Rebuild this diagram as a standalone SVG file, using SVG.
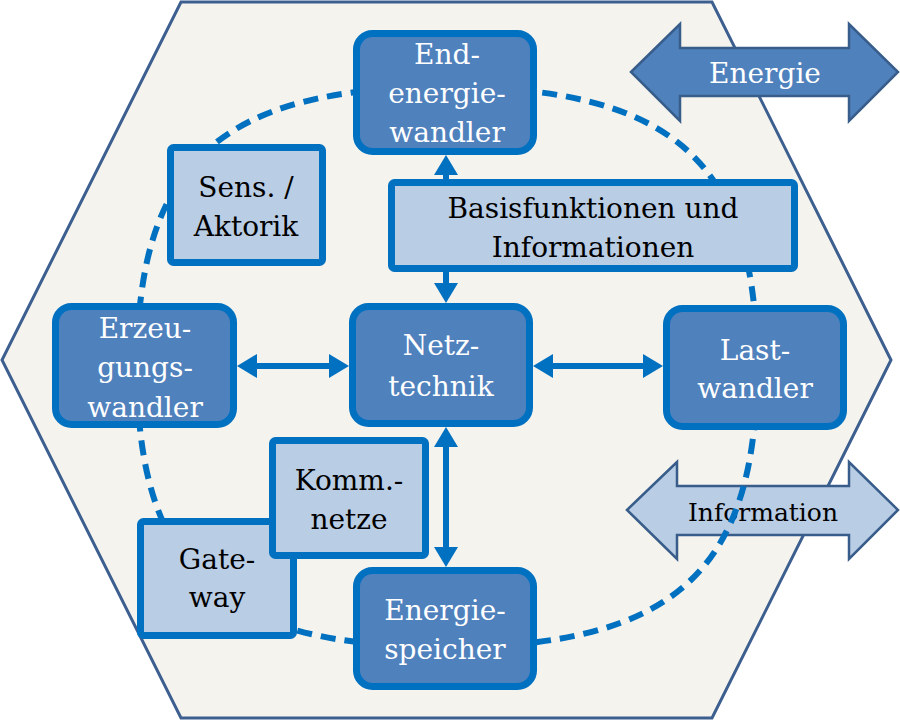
<svg xmlns="http://www.w3.org/2000/svg" width="900" height="721" viewBox="0 0 900 721">
<style>
.dk{fill:#4f81bd;stroke:#0070c0;stroke-width:7}
.lt{fill:#b9cde5;stroke:#0070c0;stroke-width:7}
.tw{font-family:"DejaVu Serif","Liberation Serif",serif;font-size:28px;fill:#ffffff;text-anchor:middle}
.tb{font-family:"DejaVu Serif","Liberation Serif",serif;font-size:28px;fill:#000000;text-anchor:middle}
.con{stroke:#0070c0;stroke-width:6;fill:none;marker-start:url(#ah);marker-end:url(#ah)}
</style>
<defs>
<marker id="ah" viewBox="0 0 20 24" markerUnits="userSpaceOnUse" markerWidth="20" markerHeight="24" refX="2" refY="12" orient="auto-start-reverse">
<path d="M0,0 L20,12 L0,24 Z" fill="#0070c0"/>
</marker>
</defs>
<g id="hexagon">
<polygon points="181,2 712,2 891,360 712,718 181,718 2,360" fill="#f4f3ed" stroke="#3c5f8f" stroke-width="3"/>
</g>
<g id="energie">
<polygon points="631,72 680,24 680,48 849,48 849,24 898,72 849,121 849,96 680,96 680,121" fill="#4f81bd" stroke="#385d8a" stroke-width="2.5" stroke-linejoin="miter"/>
<text class="tw" x="765" y="83">Energie</text>
</g>
<g id="information">
<polygon points="627,510 677,462 677,486 849,486 849,462 898,510 849,559 849,535 677,535 677,559" fill="#b9cde5" stroke="#385d8a" stroke-width="2.5"/>
<text class="tb" x="763" y="521" style="font-size:25px">Information</text>
</g>
<g id="ring">
<path d="M757,367 C757,571.7 673.6,647 447,647 C220.4,647 137,571.7 137,367 C137,162.3 220.4,87 447,87 C673.6,87 757,162.3 757,367 Z" fill="none" stroke="#0070c0" stroke-width="6" stroke-dasharray="15 9"/>
</g>
<g id="connectors">
<line class="con" x1="446" y1="173" x2="446" y2="285"/>
<line class="con" x1="255" y1="366" x2="331" y2="366"/>
<line class="con" x1="551" y1="366" x2="645" y2="366"/>
<line class="con" x1="446" y1="445" x2="446" y2="549"/>
</g>
<g id="endenergiewandler">
<rect class="dk" x="356.5" y="33.5" width="177" height="118" rx="16"/>
<text class="tw" x="447" y="64">End-</text>
<text class="tw" x="447" y="103">energie-</text>
<text class="tw" x="447" y="142">wandler</text>
</g>
<g id="basisfunktionen">
<rect class="lt" x="391.5" y="182.5" width="403" height="86" rx="3"/>
<text class="tb" x="593" y="218">Basisfunktionen und</text>
<text class="tb" x="593" y="257">Informationen</text>
</g>
<g id="sensaktorik">
<rect class="lt" x="170.5" y="147.5" width="152" height="115" rx="3"/>
<text class="tb" x="246" y="197">Sens. /</text>
<text class="tb" x="246" y="236">Aktorik</text>
</g>
<g id="erzeugungswandler">
<rect class="dk" x="55.5" y="306.5" width="178" height="118" rx="16"/>
<text class="tw" x="145" y="338">Erzeu-</text>
<text class="tw" x="145" y="377">gungs-</text>
<text class="tw" x="145" y="417">wandler</text>
</g>
<g id="netztechnik">
<rect class="dk" x="352.5" y="306.5" width="177" height="117" rx="16"/>
<text class="tw" x="441" y="355">Netz-</text>
<text class="tw" x="441" y="396">technik</text>
</g>
<g id="lastwandler">
<rect class="dk" x="666.5" y="308.5" width="177" height="118" rx="16"/>
<text class="tw" x="755" y="360">Last-</text>
<text class="tw" x="755" y="398">wandler</text>
</g>
<g id="gateway">
<rect class="lt" x="140.5" y="521.5" width="153" height="114" rx="3"/>
<text class="tb" x="217" y="569">Gate-</text>
<text class="tb" x="217" y="607">way</text>
</g>
<g id="kommnetze">
<rect class="lt" x="272.5" y="440.5" width="153" height="115" rx="3"/>
<text class="tb" x="349" y="490">Komm.-</text>
<text class="tb" x="349" y="529">netze</text>
</g>
<g id="energiespeicher">
<rect class="dk" x="356.5" y="570.5" width="177" height="116" rx="16"/>
<text class="tw" x="445" y="620">Energie-</text>
<text class="tw" x="445" y="659">speicher</text>
</g>
</svg>
